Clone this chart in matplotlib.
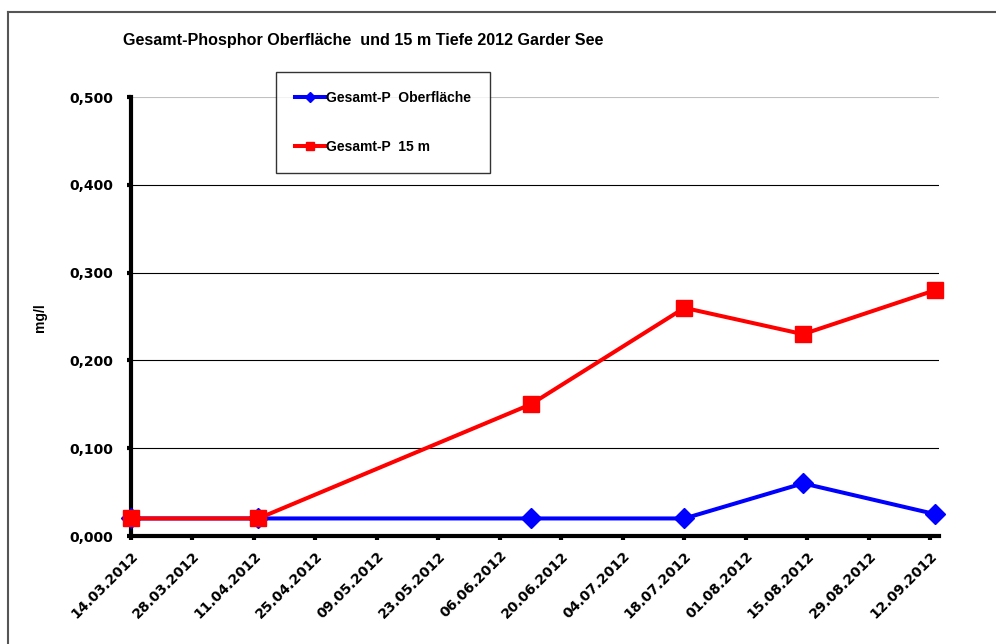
import datetime as dt

import matplotlib
matplotlib.use("Agg")
import matplotlib.pyplot as plt
import matplotlib.dates as mdates
from matplotlib.lines import Line2D
from matplotlib.ticker import FuncFormatter

plt.rcParams["font.family"] = ["Liberation Sans", "DejaVu Sans"]
plt.rcParams["font.weight"] = "bold"

# sampling dates and values (mg/l)
dates = ["14.03.2012", "12.04.2012", "13.06.2012", "18.07.2012", "14.08.2012", "13.09.2012"]
p_surface = [0.020, 0.020, 0.020, 0.020, 0.060, 0.025]
p_15m = [0.020, 0.020, 0.150, 0.260, 0.230, 0.280]

title = "Gesamt-Phosphor Oberfläche  und 15 m Tiefe 2012 Garder See"
label_surface = "Gesamt-P  Oberfläche"
label_15m = "Gesamt-P  15 m"

x = [dt.datetime.strptime(d, "%d.%m.%Y") for d in dates]
tick_start = dt.datetime(2012, 3, 14)
xticks = [tick_start + dt.timedelta(days=14 * i) for i in range(14)]

fig = plt.figure(figsize=(9.96, 6.44), dpi=100)
ax = fig.add_axes([0.1315, 0.1677, 0.8115, 0.6813])

ax.plot(x, p_surface, color="#0000ff", lw=2.9, marker="D", ms=10,
        clip_on=False, zorder=4, label=label_surface)
ax.plot(x, p_15m, color="#ff0000", lw=2.9, marker="s", ms=11,
        clip_on=False, zorder=5, label=label_15m)

ax.set_ylim(0, 0.5)
ax.set_yticks([0, 0.1, 0.2, 0.3, 0.4, 0.5])
ax.yaxis.set_major_formatter(FuncFormatter(lambda v, p: f"{v:.3f}".replace(".", ",")))
for v in [0.1, 0.2, 0.3, 0.4]:
    ax.axhline(v, color="black", lw=0.8, zorder=1)
ax.axhline(0.5, color="#c0c0c0", lw=0.8, zorder=1)

ax.set_xlim(tick_start, dt.datetime(2012, 9, 14))
ax.set_xticks(xticks)
ax.xaxis.set_major_formatter(mdates.DateFormatter("%d.%m.%Y"))

for s in ["top", "right"]:
    ax.spines[s].set_visible(False)
for s in ["left", "bottom"]:
    ax.spines[s].set_linewidth(3.0)
ax.tick_params(axis="both", length=3, width=3)
ax.tick_params(axis="y", pad=10)
ax.tick_params(axis="x", pad=6)
for lab in ax.get_xticklabels() + ax.get_yticklabels():
    lab.set_fontfamily("DejaVu Sans")
    lab.set_fontweight("bold")
    lab.set_fontsize(10)
for lab in ax.get_xticklabels():
    lab.set_rotation(45)
    lab.set_ha("right")
    lab.set_rotation_mode("anchor")

fig.text(40 / 996, 1 - 318 / 644, "mg/l", fontsize=10, rotation=90,
         ha="center", va="center")

fig.text(0.365, 1 - 40 / 644, title, fontsize=11.6, ha="center", va="center")

leg = ax.legend(loc="upper left", bbox_to_anchor=(276 / 996, 1 - 72 / 644),
                bbox_transform=fig.transFigure, frameon=True, fancybox=False,
                edgecolor="black", prop={"size": 10, "weight": "bold"},
                handlelength=2.16, labelspacing=2.5, borderpad=1.37,
                handletextpad=0.1, borderaxespad=0, markerscale=0.55)
leg.get_frame().set_linewidth(1.0)

# outer frame of the chart area
fig.add_artist(Line2D([8 / 996, 1.0], [1 - 12 / 644, 1 - 12 / 644],
                      color="#555555", lw=1.5, transform=fig.transFigure))
fig.add_artist(Line2D([8 / 996, 8 / 996], [0, 1 - 12 / 644],
                      color="#555555", lw=1.5, transform=fig.transFigure))

fig.savefig("out.png", dpi=100)
